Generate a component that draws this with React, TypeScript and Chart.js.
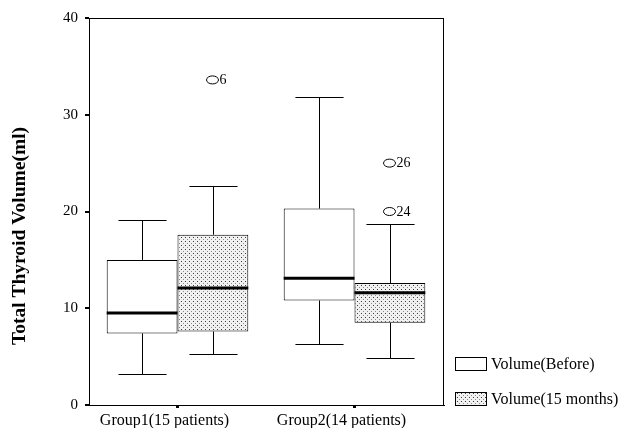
import React, { useEffect, useRef } from 'react';
import { Chart, registerables } from 'chart.js';

Chart.register(...registerables);

const categories = ['Group1(15 patients)', 'Group2(14 patients)'];
const seriesLabels = ['Volume(Before)', 'Volume(15 months)'];

const beforeMin = [3.2, 6.3];
const beforeQ1 = [7.4, 10.8];
const beforeMedian = [9.5, 13.1];
const beforeQ3 = [15.0, 20.3];
const beforeMax = [19.1, 31.8];

const afterMin = [5.3, 4.9];
const afterQ1 = [7.6, 8.5];
const afterMedian = [12.1, 11.6];
const afterQ3 = [17.6, 12.6];
const afterMax = [22.6, 18.7];

const beforeOutliers: number[][] = [[], []];
const beforeOutlierIds: string[][] = [[], []];
const afterOutliers: number[][] = [[33.6], [25.0, 20.0]];
const afterOutlierIds: string[][] = [['6'], ['26', '24']];

const yTicks = [0, 10, 20, 30, 40];
const yTitle = 'Total Thyroid Volume(ml)';

const SERIF = '"Liberation Serif", "Times New Roman", serif';

function makePattern(ctx: CanvasRenderingContext2D) {
  const c = document.createElement('canvas');
  c.width = 4;
  c.height = 4;
  const p = c.getContext('2d')!;
  p.fillStyle = '#f1f1f1';
  p.fillRect(0, 0, 4, 4);
  p.fillStyle = '#3a3a3a';
  p.fillRect(1, 1, 1, 1);
  p.fillStyle = '#8a8a8a';
  p.fillRect(3, 3, 1, 1);
  return ctx.createPattern(c, 'repeat') as CanvasPattern;
}

export default function App() {
  const ref = useRef<HTMLCanvasElement>(null);

  useEffect(() => {
    const canvas = ref.current!;
    const ctx0 = canvas.getContext('2d')!;
    const pattern = makePattern(ctx0);
    const fills: (string | CanvasPattern)[] = ['#ffffff', pattern];

    const stats = [
      { min: beforeMin, med: beforeMedian, max: beforeMax, q1: beforeQ1, q3: beforeQ3, out: beforeOutliers, ids: beforeOutlierIds },
      { min: afterMin, med: afterMedian, max: afterMax, q1: afterQ1, q3: afterQ3, out: afterOutliers, ids: afterOutlierIds },
    ];

    const boxPlugin = {
      id: 'boxParts',
      afterDatasetsDraw(chart: any) {
        const ctx: CanvasRenderingContext2D = chart.ctx;
        const yS = chart.scales.y;
        ctx.save();
        ctx.strokeStyle = '#000';
        ctx.fillStyle = '#000';
        stats.forEach((s, d) => {
          const meta = chart.getDatasetMeta(d);
          meta.data.forEach((el: any, i: number) => {
            const { x, width } = el.getProps(['x', 'width'], true);
            const cx = Math.round(x) + 0.5;
            const half = width * 0.34;
            const yMax = Math.round(yS.getPixelForValue(s.max[i])) + 0.5;
            const yMin = Math.round(yS.getPixelForValue(s.min[i])) + 0.5;
            const yQ1 = yS.getPixelForValue(s.q1[i]);
            const yQ3 = yS.getPixelForValue(s.q3[i]);
            const yMed = yS.getPixelForValue(s.med[i]);
            ctx.lineWidth = 1;
            ctx.beginPath();
            ctx.moveTo(cx, yQ3);
            ctx.lineTo(cx, yMax);
            ctx.moveTo(cx - half, yMax);
            ctx.lineTo(cx + half, yMax);
            ctx.moveTo(cx, yQ1);
            ctx.lineTo(cx, yMin);
            ctx.moveTo(cx - half, yMin);
            ctx.lineTo(cx + half, yMin);
            ctx.stroke();
            ctx.lineWidth = 3;
            ctx.beginPath();
            ctx.moveTo(x - width / 2, yMed);
            ctx.lineTo(x + width / 2, yMed);
            ctx.stroke();
            ctx.lineWidth = 1;
            s.out[i].forEach((v, k) => {
              const oy = yS.getPixelForValue(v);
              ctx.beginPath();
              ctx.ellipse(cx - 1, oy, 6, 4, 0, 0, Math.PI * 2);
              ctx.stroke();
              ctx.font = `14px ${SERIF}`;
              ctx.textAlign = 'left';
              ctx.textBaseline = 'middle';
              ctx.fillText(s.ids[i][k], cx + 6, oy + 0.5);
            });
          });
        });
        ctx.restore();
      },
      afterDraw(chart: any) {
        const ctx: CanvasRenderingContext2D = chart.ctx;
        const a = chart.chartArea;
        ctx.save();
        ctx.strokeStyle = '#000';
        ctx.lineWidth = 1;
        ctx.strokeRect(Math.round(a.left) + 0.5, Math.round(a.top) + 0.5, Math.round(a.right - a.left), Math.round(a.bottom - a.top));
        ctx.fillStyle = '#000';
        ctx.font = `bold 19.5px ${SERIF}`;
        ctx.translate(25, 236);
        ctx.rotate(-Math.PI / 2);
        ctx.textAlign = 'center';
        ctx.textBaseline = 'alphabetic';
        ctx.fillText(yTitle, 0, 0);
        ctx.restore();
        ctx.save();
        const lx = a.right + 12;
        const rows = [a.bottom - 48, a.bottom - 13];
        chart.data.datasets.forEach((ds: any, d: number) => {
          const by = Math.round(rows[d]) + 0.5;
          ctx.fillStyle = fills[d] as any;
          ctx.fillRect(lx, by, 31, 13);
          ctx.strokeStyle = '#000';
          ctx.lineWidth = 1;
          ctx.strokeRect(lx + 0.5, by, 31, 13);
          ctx.fillStyle = '#000';
          ctx.font = `16px ${SERIF}`;
          ctx.textAlign = 'left';
          ctx.textBaseline = 'middle';
          ctx.fillText(ds.label, lx + 36, by + 7);
        });
        ctx.restore();
      },
    };

    const chart = new Chart(canvas, {
      type: 'bar',
      data: {
        labels: categories,
        datasets: [
          {
            label: seriesLabels[0],
            data: categories.map((_, i) => [beforeQ1[i], beforeQ3[i]]) as any,
            backgroundColor: fills[0] as any,
            borderColor: '#000',
            borderWidth: 1,
            borderSkipped: false,
            categoryPercentage: 0.8,
            barPercentage: 1.0,
          },
          {
            label: seriesLabels[1],
            data: categories.map((_, i) => [afterQ1[i], afterQ3[i]]) as any,
            backgroundColor: fills[1] as any,
            borderColor: '#000',
            borderWidth: 1,
            borderSkipped: false,
            categoryPercentage: 0.8,
            barPercentage: 1.0,
          },
        ],
      },
      options: {
        responsive: false,
        animation: false,
        devicePixelRatio: 1,
        events: [],
        layout: { padding: { top: 18, right: 181, left: 0, bottom: 0 } },
        plugins: {
          legend: { display: false },
          tooltip: { enabled: false },
        },
        scales: {
          x: {
            type: 'category',
            offset: true,
            grid: { display: true, offset: false, drawOnChartArea: false, drawTicks: true, tickLength: 3, lineWidth: 3, color: '#000' },
            border: { display: true, color: '#000', width: 1 },
            ticks: { color: '#000', font: { family: SERIF, size: 16 }, padding: 3, labelOffset: -13, maxRotation: 0, autoSkip: false },
            afterFit: (s: any) => { s.height = 23; },
          },
          y: {
            type: 'linear',
            min: 0,
            max: 40,
            afterBuildTicks: (s: any) => { s.ticks = yTicks.map((v) => ({ value: v })); },
            grid: { display: true, drawOnChartArea: false, drawTicks: true, tickLength: 4, lineWidth: 2, color: '#000' },
            border: { display: true, color: '#000', width: 1 },
            ticks: { color: '#000', font: { family: SERIF, size: 15 }, padding: 7 },
            afterFit: (s: any) => { s.width = 89; },
          },
        },
      },
      plugins: [boxPlugin],
    });
    return () => chart.destroy();
  }, []);

  return (
    <div style={{ position: 'absolute', left: 0, top: 0, width: 624, height: 428, background: '#fff' }}>
      <canvas ref={ref} width={624} height={428} style={{ display: 'block' }} />
    </div>
  );
}
